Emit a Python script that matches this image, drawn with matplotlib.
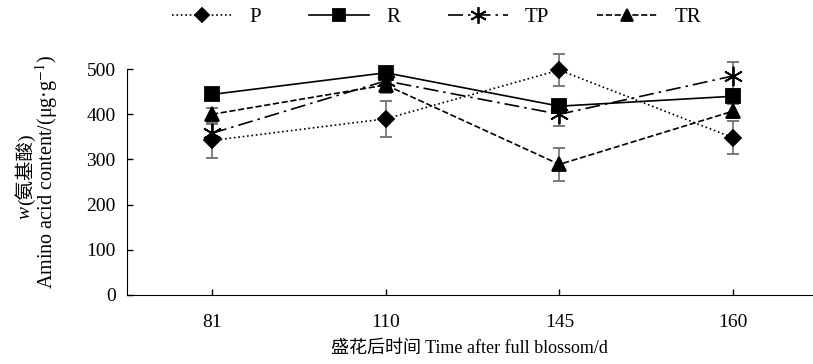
import numpy as np
import matplotlib.pyplot as plt

plt.rcParams['font.family'] = ['Liberation Serif', 'Noto Sans CJK SC']
plt.rcParams['mathtext.fontset'] = 'stix'

days = ['81', '110', '145', '160']

p_val = [342, 390, 498, 348]
p_err = [38, 40, 35, 37]
r_val = [444, 492, 418, 440]
r_err = [10, 8, 10, 10]
tp_val = [358, 474, 400, 485]
tp_err = [20, 12, 25, 30]
tr_val = [400, 465, 289, 407]
tr_err = [15, 18, 36, 15]

x = np.arange(len(days))

fig = plt.figure(figsize=(8.13, 3.64), dpi=100)
ax = fig.add_axes([0.156, 0.19, 0.844, 0.62])

ecol = '#6e6e6e'
series = [
    ('P', p_val, p_err, ':', 'D', 8),
    ('R', r_val, r_err, '-', 's', 10),
    ('TP', tp_val, tp_err, (0, (9, 3, 1.5, 3)), (6, 2, 0), 14),
    ('TR', tr_val, tr_err, '--', '^', 10),
]
for name, v, e, ls, mk, ms in series:
    ax.errorbar(x, v, yerr=e, color='black', ecolor=ecol, elinewidth=1.2,
                capsize=4, capthick=1.2, linestyle=ls, linewidth=1.2,
                marker=mk, markersize=ms, markeredgewidth=1.3,
                label=name, clip_on=False)

ax.set_xlim(-0.49, 3.46)
ax.set_ylim(0, 500)
ax.set_yticks([0, 100, 200, 300, 400, 500])
ax.set_xticks(x)
ax.set_xticklabels(days)
ax.spines['top'].set_visible(False)
ax.spines['right'].set_visible(False)
ax.tick_params(direction='in', labelsize=14, length=4, width=1)
ax.tick_params(axis='x', pad=14)
ax.tick_params(axis='y', pad=8)

ax.set_xlabel('盛花后时间 Time after full blossom/d', fontsize=13, labelpad=6)

# y label: two lines, first one mixes italic w and Chinese
fig.text(25 / 813, 1 - 205 / 364, '(氨基酸)', rotation=90, ha='center',
         va='bottom', fontsize=14)
fig.text(25 / 813, 1 - 206 / 364, 'w', rotation=90, ha='center', va='top',
         fontsize=14, style='italic')
fig.text(47 / 813, 1 - 172 / 364, 'Amino acid content/(μg·g$^{-1}$)',
         rotation=90, ha='center', va='center', fontsize=14.5)

handles, labels = ax.get_legend_handles_labels()
handles = [h[0] for h in handles]
fig.legend(handles, labels, loc='center', bbox_to_anchor=(0.537, 1 - 17 / 364),
           ncol=4, frameon=False, fontsize=15, handlelength=2.9,
           columnspacing=2.3, handletextpad=0.8, markerscale=0.85)

fig.savefig('out.png', dpi=100)
